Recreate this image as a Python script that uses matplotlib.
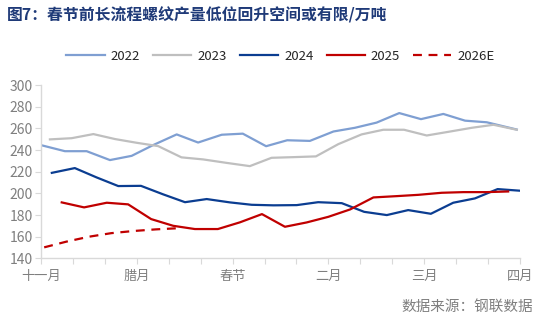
#!/usr/bin/env python
# -*- coding: utf-8 -*-
"""
长流程螺纹周产量：春节前后季节性对比（万吨）
"""

import matplotlib as mpl
mpl.use('Agg')
import matplotlib.pyplot as plt

plt.rcParams['font.family'] = ['Noto Sans CJK SC', 'DejaVu Sans']
plt.rcParams['axes.unicode_minus'] = False

# 横轴：距十一月初的天数
days_2022 = [0, 7.5, 14.3, 21.6, 28.4, 35.1, 42.5, 49.2, 56.6, 63.2, 70.5,
             77.1, 84.2, 91.6, 98.3, 105.1, 112.2, 119, 126, 132.8, 139.6, 149]
prod_2022 = [244.6, 239, 239, 230.8, 234.7, 244.6, 254.5, 247, 254.2, 255.2,
             243.6, 249.1, 248.5, 257.2, 260.6, 265.4, 274.2, 268.6, 273.4,
             267.2, 265.7, 259]

days_2023 = [2.8, 9.6, 16.4, 23.2, 29.9, 36.7, 44, 50.8, 57.9, 65.4, 72.2,
             79, 86.1, 93.1, 100.4, 107.2, 113.7, 120.8, 127.6, 134.9, 141.7,
             149]
prod_2023 = [249.9, 251, 254.8, 250.2, 246.8, 243.7, 233.3, 231.4, 228.3,
             225.2, 232.9, 233.5, 234.2, 245.5, 254.5, 258.8, 258.8, 253.5,
             256.9, 260.6, 263.4, 258.8]

days_2024 = [3.4, 10.6, 17.4, 24.2, 31.3, 38.3, 45.1, 51.9, 59.2, 66, 72.8,
             80.1, 86.8, 94.2, 101.2, 108.3, 115, 122.1, 129.1, 135.9, 143,
             150]
prod_2024 = [219, 223.4, 214.8, 206.8, 207, 199.1, 191.9, 194.8, 191.7, 189.5,
             189, 189.2, 191.9, 191, 183, 180, 184.6, 181.2, 191.4, 195.4,
             204, 202.5]

days_2025 = [6.5, 13.5, 20.6, 27.3, 34.5, 41.4, 48.2, 55.4, 62.3, 69.2, 76.4,
             83.2, 90, 96.8, 104.1, 111.4, 118.2, 125.5, 132.3, 139.6, 146.3]
prod_2025 = [191.7, 187.1, 191.4, 189.9, 176.3, 170.1, 167.1, 167.1, 173.3,
             180.9, 169.2, 173.2, 178.4, 185.2, 196.3, 197.5, 198.7, 200.6,
             201.2, 201.2, 201.8]

days_2026 = [1, 8, 15, 22, 29, 36, 42.5]
prod_2026 = [150.2, 155.5, 160, 163.3, 165.3, 166.8, 167.8]

tick_days = [0, 10, 20, 30, 40, 50, 60, 70, 80, 90, 100, 110, 120, 130, 140,
             150]
month_labels = ['十一月', '', '', '腊月', '', '', '春节', '', '', '二月', '',
                '', '三月', '', '', '四月']


def main():
    fig = plt.figure(figsize=(5.5, 3.3), dpi=100)
    ax = fig.add_axes([0.0745, 0.217, 0.8709, 0.525])

    lw = 1.6
    ax.plot(days_2022, prod_2022, color='#7F9FD2', lw=lw, label='2022')
    ax.plot(days_2023, prod_2023, color='#BFBFBF', lw=lw, label='2023')
    ax.plot(days_2024, prod_2024, color='#0B3D91', lw=lw, label='2024')
    ax.plot(days_2025, prod_2025, color='#C00000', lw=lw, label='2025')
    ax.plot(days_2026, prod_2026, color='#C00000', lw=lw, ls=(0, (4, 3)),
            label='2026E')

    ax.set_xlim(0, 150)
    ax.set_ylim(140, 300)
    ax.set_yticks(range(140, 301, 20))
    ax.set_xticks(tick_days)
    ax.set_xticklabels(month_labels)

    for side in ['top', 'right']:
        ax.spines[side].set_visible(False)
    for side in ['left', 'bottom']:
        ax.spines[side].set_color('#D9D9D9')
        ax.spines[side].set_linewidth(1.0)
    ax.tick_params(axis='y', colors='#D9D9D9', labelcolor='#7F7F7F',
                   labelsize=10, length=4, pad=2)
    ax.tick_params(axis='x', colors='#D9D9D9', labelcolor='#7F7F7F',
                   labelsize=9.5, length=4, pad=4)

    ax.legend(loc='lower center', bbox_to_anchor=(0.5, 1.06), ncol=5,
              frameon=False, fontsize=9.5, handlelength=2.9,
              columnspacing=1.0, handletextpad=0.45, labelcolor='#262626')

    fig.text(0.013, 0.955, '图7：春节前长流程螺纹产量低位回升空间或有限/万吨',
             fontsize=11.4, fontweight='bold', color='#1F3A78', va='center')
    fig.text(0.97, 0.07, '数据来源：钢联数据', fontsize=10.5, color='#7F7F7F',
             ha='right', va='center')

    fig.savefig('out.png', dpi=100)
    plt.close(fig)


if __name__ == "__main__":
    main()
